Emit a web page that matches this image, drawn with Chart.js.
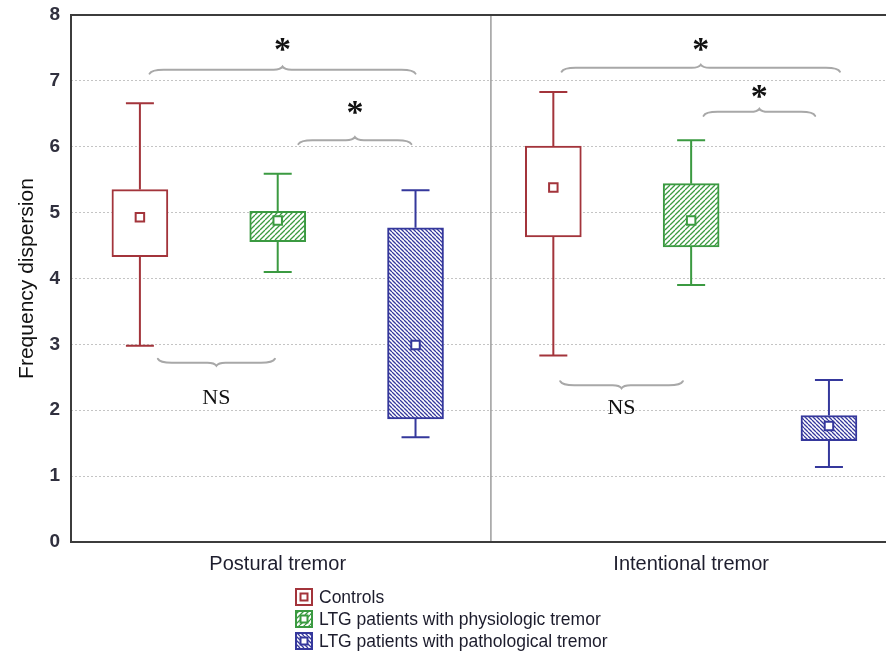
<!DOCTYPE html>
<html>
<head>
<meta charset="utf-8">
<script src="https://cdn.jsdelivr.net/npm/chart.js@4/dist/chart.umd.min.js"></script>
<style>
  html, body { margin: 0; padding: 0; background: #fff; overflow: hidden; }
  #wrap { width: 886px; height: 655px; }
</style>
</head>
<body>
<div id="wrap"><canvas id="tremorChart" width="886" height="655"></canvas></div>
<script>
// box plot values, indexed [condition][group]
const conditions = ['Postural tremor', 'Intentional tremor'];
const groups = ['Controls', 'LTG patients with physiologic tremor', 'LTG patients with pathological tremor'];
const whiskerLow  = [[2.98, 4.10, 1.59], [2.83, 3.90, 1.14]];
const boxLow      = [[4.33, 4.56, 1.87], [4.63, 4.48, 1.54]];
const meanValue   = [[4.93, 4.88, 2.99], [5.38, 4.88, 1.76]];
const boxHigh     = [[5.35, 5.02, 4.77], [6.01, 5.44, 1.92]];
const whiskerHigh = [[6.66, 5.59, 5.34], [6.83, 6.10, 2.46]];
const yTicks = [0, 1, 2, 3, 4, 5, 6, 7, 8];

// significance braces: x in box slots, y in axis units
const braceFrom  = [0.07, 1.15, 0.13, 3.06, 4.09, 3.05];
const braceTo    = [2.00, 1.97, 0.98, 5.08, 4.90, 3.94];
const braceLevel = [7.17, 6.10, 2.72, 7.20, 6.53, 2.38];
const braceMark  = ['*', '*', 'NS', '*', '*', 'NS'];
const markLevel  = [7.55, 6.60, 2.20, 7.55, 6.84, 2.05];

const colors = ['#a3343b', '#3b9a41', '#35389c'];
const slot = (c, g) => c * groups.length + g;

function hatch(color, size, dir) {
    const c = document.createElement('canvas');
    c.width = size; c.height = size;
    const g = c.getContext('2d');
    g.fillStyle = '#fff';
    g.fillRect(0, 0, size, size);
    g.strokeStyle = color;
    g.lineWidth = 1.3;
    g.beginPath();
    for (let k = -1; k <= 1; k++) {
        if (dir > 0) { g.moveTo(k * size, size); g.lineTo(k * size + size, 0); }
        else { g.moveTo(k * size, 0); g.lineTo(k * size + size, size); }
    }
    g.stroke();
    return g.createPattern(c, 'repeat');
}
const fills = ['#ffffff', hatch(colors[1], 5, 1), hatch(colors[2], 4, -1)];

const boxSets = groups.map((name, g) => ({
    type: 'bar',
    label: name,
    data: conditions.map((_, c) => ({ x: slot(c, g), y: [boxLow[c][g], boxHigh[c][g]] })),
    backgroundColor: fills[g],
    borderColor: colors[g],
    borderWidth: 2,
    borderSkipped: false,
    barThickness: 56,
    grouped: false,
    order: 2
}));
const meanSets = groups.map((name, g) => ({
    type: 'scatter',
    label: name + ' (mean)',
    data: conditions.map((_, c) => ({ x: slot(c, g), y: meanValue[c][g] })),
    pointStyle: 'rect',
    pointRadius: 6,
    backgroundColor: '#fff',
    borderColor: colors[g],
    borderWidth: 2,
    order: 0
}));

const frame = {
    id: 'frame',
    beforeDatasetsDraw(chart) {
        const { ctx, chartArea: a, scales: { x, y } } = chart;
        ctx.save();
        // divider between the two tremor types
        ctx.strokeStyle = '#9c9c9c';
        ctx.lineWidth = 1.5;
        const dx = x.getPixelForValue(2.547);
        ctx.beginPath();
        ctx.moveTo(dx, a.top); ctx.lineTo(dx, a.bottom);
        ctx.stroke();
        // whiskers
        ctx.lineWidth = 2;
        conditions.forEach((_, c) => groups.forEach((_, g) => {
            const px = x.getPixelForValue(slot(c, g));
            const hi = y.getPixelForValue(whiskerHigh[c][g]);
            const lo = y.getPixelForValue(whiskerLow[c][g]);
            ctx.strokeStyle = colors[g];
            ctx.beginPath();
            ctx.moveTo(px, y.getPixelForValue(boxHigh[c][g])); ctx.lineTo(px, hi);
            ctx.moveTo(px - 14, hi); ctx.lineTo(px + 14, hi);
            ctx.moveTo(px, y.getPixelForValue(boxLow[c][g])); ctx.lineTo(px, lo);
            ctx.moveTo(px - 14, lo); ctx.lineTo(px + 14, lo);
            ctx.stroke();
        }));
        ctx.restore();
    },
    afterDraw(chart) {
        const { ctx, chartArea: a } = chart;
        ctx.save();
        ctx.strokeStyle = '#3c3c3c';
        ctx.lineWidth = 2;
        ctx.beginPath();
        ctx.moveTo(a.right, a.top); ctx.lineTo(a.left, a.top);
        ctx.lineTo(a.left, a.bottom); ctx.lineTo(a.right, a.bottom);
        ctx.stroke();
        ctx.restore();
    }
};

function brace(ctx, x1, x2, yy, s) {
    const xm = (x1 + x2) / 2;
    ctx.beginPath();
    ctx.moveTo(x1, yy - s * 4);
    ctx.quadraticCurveTo(x1 + 2, yy, x1 + 14, yy);
    ctx.lineTo(xm - 9, yy);
    ctx.quadraticCurveTo(xm - 2, yy, xm, yy + s * 3);
    ctx.quadraticCurveTo(xm + 2, yy, xm + 9, yy);
    ctx.lineTo(x2 - 14, yy);
    ctx.quadraticCurveTo(x2 - 2, yy, x2, yy - s * 4);
    ctx.stroke();
}

const annotations = {
    id: 'annotations',
    afterDatasetsDraw(chart) {
        const { ctx, scales: { x, y } } = chart;
        ctx.save();
        ctx.strokeStyle = '#a8a8a8';
        ctx.lineWidth = 2;
        ctx.lineCap = 'round';
        braceMark.forEach((mark, i) => {
            const x1 = x.getPixelForValue(braceFrom[i]);
            const x2 = x.getPixelForValue(braceTo[i]);
            const by = y.getPixelForValue(braceLevel[i]);
            const s = mark === 'NS' ? 1 : -1;
            brace(ctx, x1, x2, by, s);
            ctx.fillStyle = '#111';
            ctx.font = mark === 'NS' ? '22px "Liberation Serif"' : 'bold 34px "Liberation Serif"';
            ctx.textAlign = 'center';
            ctx.textBaseline = 'alphabetic';
            const m = ctx.measureText(mark);
            const cy = y.getPixelForValue(markLevel[i]);
            ctx.fillText(mark, (x1 + x2) / 2, cy + (m.actualBoundingBoxAscent - m.actualBoundingBoxDescent) / 2);
        });
        ctx.restore();
    }
};

const legendBox = {
    id: 'legendBox',
    afterDraw(chart) {
        const { ctx, chartArea: a } = chart;
        ctx.save();
        groups.forEach((name, g) => {
            const cy = a.bottom + 55 + g * 22;
            const lx = 296;
            ctx.fillStyle = fills[g];
            ctx.fillRect(lx, cy - 8, 16, 16);
            ctx.strokeStyle = colors[g];
            ctx.lineWidth = 2;
            ctx.strokeRect(lx, cy - 8, 16, 16);
            ctx.fillStyle = '#fff';
            ctx.fillRect(lx + 4.5, cy - 3.5, 7, 7);
            ctx.strokeRect(lx + 4.5, cy - 3.5, 7, 7);
            ctx.fillStyle = '#1c1c2c';
            ctx.font = '17.5px "Liberation Sans"';
            ctx.textAlign = 'left';
            ctx.textBaseline = 'middle';
            ctx.fillText(name, lx + 23, cy + 1);
        });
        ctx.restore();
    }
};

new Chart(document.getElementById('tremorChart').getContext('2d'), {
    type: 'bar',
    data: { datasets: [...meanSets, ...boxSets] },
    options: {
        responsive: false,
        animation: false,
        devicePixelRatio: 1,
        layout: { autoPadding: false, padding: { top: 15, right: 0, bottom: 73, left: 0 } },
        plugins: { legend: { display: false }, tooltip: { enabled: false } },
        scales: {
            x: {
                type: 'linear',
                min: -0.5,
                max: 5.414,
                offset: false,
                afterBuildTicks: s => { s.ticks = conditions.map((_, c) => ({ value: slot(c, 1) })); },
                afterFit: s => { s.height = 40; s.paddingLeft = 0; s.paddingRight = 0; },
                ticks: {
                    callback: v => conditions[Math.round((v - 1) / groups.length)],
                    color: '#1e1e2e',
                    font: { family: 'Liberation Sans', size: 20 },
                    padding: 10,
                    maxRotation: 0
                },
                grid: { display: false, drawTicks: false },
                border: { display: false }
            },
            y: {
                min: 0,
                max: 8,
                afterBuildTicks: s => { s.ticks = yTicks.map(v => ({ value: v })); },
                afterFit: s => { s.width = 71; s.paddingTop = 0; s.paddingBottom = 0; },
                ticks: {
                    color: '#30303e',
                    font: { family: 'Liberation Sans', size: 19, weight: 'bold' },
                    padding: 11
                },
                grid: { color: '#c4c4c4', lineWidth: 1, drawTicks: false },
                border: { display: false, dash: [2, 2] },
                title: {
                    display: true,
                    text: 'Frequency dispersion',
                    color: '#111',
                    font: { family: 'Liberation Sans', size: 21 },
                    padding: { top: 15, bottom: 0 }
                }
            }
        }
    },
    plugins: [frame, annotations, legendBox]
});
</script>
</body>
</html>
